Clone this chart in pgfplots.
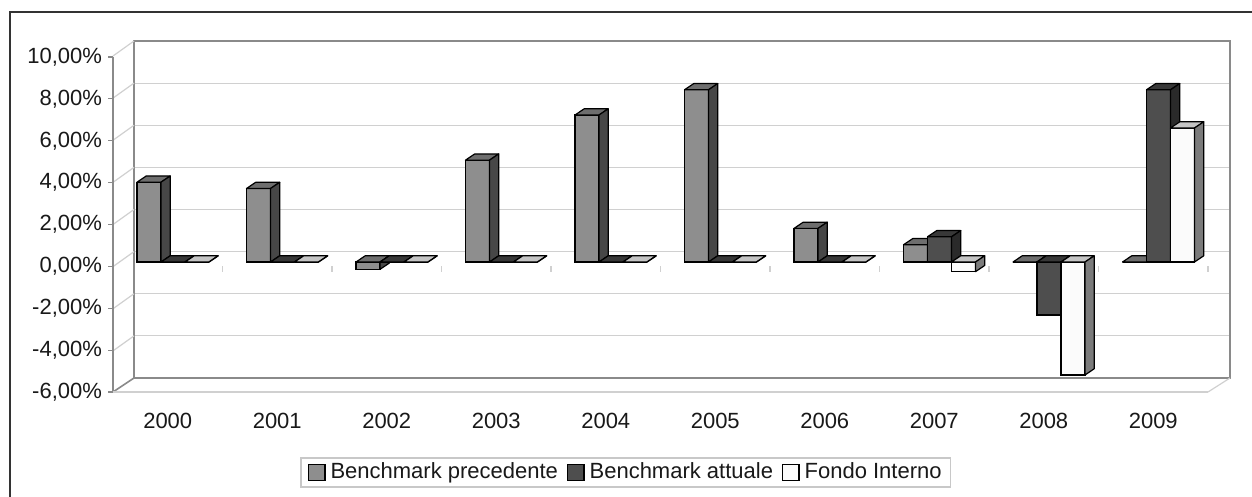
\documentclass[border=0pt]{standalone}
\usepackage{fontspec}
\setmainfont{Liberation Sans}
\usepackage{pgfplots}
\usepackage{pgfplotstable}
\pgfplotsset{compat=1.18}

\definecolor{prevF}{HTML}{8E8E8E}
\definecolor{prevT}{HTML}{6E6E6E}
\definecolor{prevS}{HTML}{474747}
\definecolor{attF}{HTML}{4E4E4E}
\definecolor{attT}{HTML}{383838}
\definecolor{attS}{HTML}{2A2A2A}
\definecolor{fonF}{HTML}{FBFBFB}
\definecolor{fonT}{HTML}{C4C4C4}
\definecolor{fonS}{HTML}{7B7B7B}
\definecolor{gridc}{HTML}{D0D0D0}
\definecolor{wallc}{HTML}{8A8A8A}
\definecolor{legc}{HTML}{C8C8C8}

% year, Benchmark precedente, Benchmark attuale, Fondo Interno (%)
\pgfplotstableread{
x prev att fon
0 3.80 0 0
1 3.50 0 0
2 -0.35 0 0
3 4.85 0 0
4 7.00 0 0
5 8.20 0 0
6 1.60 0 0
7 0.82 1.20 -0.46
8 0 -2.52 -5.38
9 0 8.20 6.38
}\data

% 3D top and side faces of a bar, drawn at the data point (10.5pt per 1%)
\newcommand\defcube[4]{%
\pgfdeclareplotmark{#1}{%
  \pgfmathsetmacro\cubeh{\val*10.5}%
  \pgfmathsetmacro\cubemh{-\val*10.5}%
  \pgfmathsetmacro\cubetp{max(0,\cubemh)}%
  \pgfmathsetmacro\cubexl{#2-6}%
  \pgfmathsetmacro\cubexr{#2+6}%
  \filldraw[fill=#3,draw=black,line width=0.6pt,line join=round]
    (\cubexl pt,\cubetp pt) -- (\cubexr pt,\cubetp pt) -- ++(4.6pt,3.1pt) -- ++(-12pt,0pt) -- cycle;
  \filldraw[fill=#4,draw=black,line width=0.6pt,line join=round]
    (\cubexr pt,0pt) -- ++(4.6pt,3.1pt) -- ++(0pt,\cubemh pt) -- ++(-4.6pt,-3.1pt) -- cycle;
}}
\defcube{cubeprev}{-12}{prevT}{prevS}
\defcube{cubeatt}{0}{attT}{attS}
\defcube{cubefon}{12}{fonT}{fonS}

\begin{document}
\begin{tikzpicture}
\useasboundingbox (0,0) rectangle (626pt,248.5pt);
\fill[white] (0,0) rectangle (626pt,248.5pt);
\draw[black!80,line width=0.8pt] (5pt,-10pt) rectangle (640pt,242.5pt);

% back wall
\begin{axis}[
  at={(67pt,59.5pt)}, anchor=south west,
  width=548pt, height=168.5pt, scale only axis,
  xmin=-0.5, xmax=9.5, ymin=-6, ymax=10,
  xtick=\empty, ytick={-6,-4,...,10}, yticklabels={},
  major tick length=0pt,
  ymajorgrids, grid style={draw=gridc,line width=0.6pt},
  axis line style={draw=wallc,line width=1pt},
  clip=false,
]
\pgfplotsinvokeforeach{-4,-2,...,10}{\draw[gridc,line width=0.6pt] (axis cs:-0.5,#1) -- ++(-10.5pt,-7.5pt);}
\draw[wallc,line width=0.8pt] (axis cs:-0.5,-6) -- ++(-10.5pt,-7pt);
\draw[gridc,line width=0.6pt] (axis cs:9.5,-6) -- ++(-11pt,-7pt);
\end{axis}

% front axis: ticks and labels
\begin{axis}[
  at={(56.5pt,52.5pt)}, anchor=south west,
  width=547.5pt, height=167.5pt, scale only axis,
  xmin=-0.5, xmax=9.5, ymin=-6, ymax=10,
  axis line style={draw=none},
  xtick={0,...,9},
  xticklabels={2000,2001,2002,2003,2004,2005,2006,2007,2008,2009},
  minor xtick={-0.5,0.5,...,9.5},
  ytick={-6,-4,...,10},
  yticklabels={-6{,}00\%,-4{,}00\%,-2{,}00\%,0{,}00\%,2{,}00\%,4{,}00\%,6{,}00\%,8{,}00\%,10{,}00\%},
  tick align=outside, xtick pos=bottom, ytick pos=left,
  major tick length=2.5pt, minor tick length=2.5pt,
  xtick style={draw=none},
  minor tick style={draw=gridc,line width=0.6pt},
  ytick style={draw=wallc,line width=0.6pt},
  tick label style={font=\fontsize{11}{12}\selectfont, text=black!90},
  xticklabel style={yshift=-4.5pt},
  yticklabel style={xshift=0.5pt},
  clip=false,
]
\draw[wallc,line width=1pt] (axis cs:-0.5,-6) -- (axis cs:-0.5,10);
\draw[gridc,line width=0.6pt] (axis cs:-0.5,-6) -- (axis cs:9.5,-6);
\pgfplotsinvokeforeach{0.5,1.5,...,9.5}{\draw[gridc,line width=0.6pt] (axis cs:#1,0) -- ++(0pt,-3pt);}
\end{axis}

% bars
\begin{axis}[
  at={(59.125pt,54.5pt)}, anchor=south west,
  width=547.5pt, height=168pt, scale only axis,
  xmin=-0.5, xmax=9.5, ymin=-6, ymax=10,
  hide axis, clip=false, clip mode=individual,
  legend columns=3,
  legend style={at={(0.4635,-0.2515)}, anchor=center, draw=legc, line width=0.6pt,
    font=\fontsize{11}{12}\selectfont, text=black!90,
    inner xsep=3.5pt, inner ysep=1.5pt,
    nodes={inner sep=1pt},
    /tikz/every odd column/.append style={column sep=1.5pt},
    /tikz/every even column/.append style={column sep=3.5pt}},
  legend image code/.code={\draw[#1] (0pt,-4pt) rectangle (8.2pt,4pt);},
]
\addlegendimage{fill=prevF,draw=black,line width=0.6pt}
\addlegendentry{Benchmark precedente}
\addlegendimage{fill=attF,draw=black,line width=0.6pt}
\addlegendentry{Benchmark attuale}
\addlegendimage{fill=fonF,draw=black,line width=0.6pt}
\addlegendentry{Fondo Interno}

\addplot[ybar, bar width=12pt, bar shift=-12pt, fill=prevF, draw=black, line width=0.6pt, forget plot] table[x=x,y=prev]{\data};
\addplot[only marks, mark=cubeprev, visualization depends on={rawy \as \val}, forget plot] table[x=x,y=prev]{\data};
\addplot[ybar, bar width=12pt, bar shift=0pt, fill=attF, draw=black, line width=0.6pt, forget plot] table[x=x,y=att]{\data};
\addplot[only marks, mark=cubeatt, visualization depends on={rawy \as \val}, forget plot] table[x=x,y=att]{\data};
\addplot[ybar, bar width=12pt, bar shift=12pt, fill=fonF, draw=black, line width=0.6pt, forget plot] table[x=x,y=fon]{\data};
\addplot[only marks, mark=cubefon, visualization depends on={rawy \as \val}, forget plot] table[x=x,y=fon]{\data};
\end{axis}
\end{tikzpicture}
\end{document}
